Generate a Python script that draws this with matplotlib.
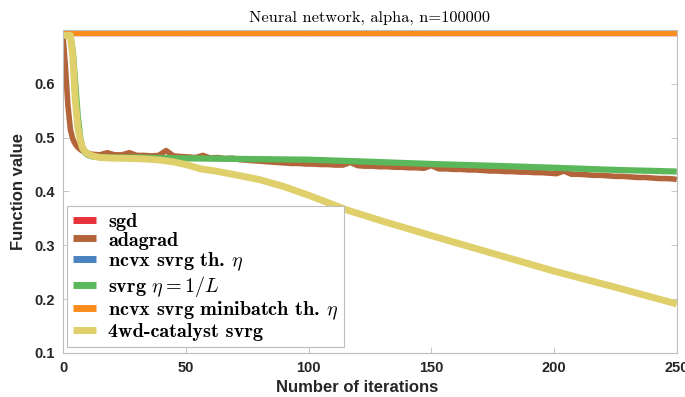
import matplotlib
matplotlib.use("Agg")
import matplotlib.pyplot as plt

# ── data ───────────────────────────────────────────────────────────────────────
sgd_x = [0, 250]
sgd_y = [0.694, 0.694]

ada_x = [0, 1, 2, 3, 4, 5, 6, 7, 8, 9, 10,
         12, 15, 18, 21, 24, 27, 30, 33, 36, 39, 42, 45, 48, 51, 54, 57, 60,
         63, 66, 69, 72, 75, 78, 81, 84, 87, 90, 93, 96, 99, 102, 105, 108,
         111, 114, 117, 120, 123, 126, 129, 132, 135, 138, 141, 144, 147, 150,
         153, 156, 159, 162, 165, 168, 171, 174, 177, 180, 183, 186, 189, 192,
         195, 198, 201, 204, 207, 210, 213, 216, 219, 222, 225, 228, 231, 234,
         237, 240, 243, 246, 249, 250]
ada_y = [0.690, 0.630, 0.560, 0.515, 0.497, 0.488, 0.482, 0.478, 0.475, 0.473, 0.471,
         0.469, 0.468, 0.472, 0.468, 0.468, 0.472, 0.467, 0.467, 0.466, 0.467, 0.476,
         0.466, 0.465, 0.464, 0.463, 0.467, 0.462, 0.463, 0.461, 0.462, 0.459, 0.458,
         0.457, 0.456, 0.455, 0.454, 0.453, 0.452, 0.452, 0.451, 0.451, 0.450, 0.450,
         0.449, 0.449, 0.454, 0.448, 0.447, 0.447, 0.446, 0.446, 0.445, 0.445, 0.444,
         0.444, 0.443, 0.448, 0.442, 0.442, 0.441, 0.441, 0.440, 0.440, 0.439, 0.438,
         0.438, 0.437, 0.437, 0.436, 0.436, 0.435, 0.435, 0.434, 0.433, 0.438, 0.432,
         0.432, 0.431, 0.430, 0.430, 0.429, 0.428, 0.428, 0.427, 0.426, 0.426, 0.425,
         0.424, 0.424, 0.423, 0.422]

ncvx_x = [0, 250]
ncvx_y = [0.694, 0.694]

svrg_x = [0, 3, 4, 5, 6, 7, 8, 9, 10, 12, 15, 20, 30, 40, 60, 80, 100, 120,
          150, 180, 200, 225, 250]
svrg_y = [0.690, 0.690, 0.660, 0.600, 0.540, 0.500, 0.480, 0.472, 0.468, 0.465,
          0.464, 0.463, 0.463, 0.462, 0.461, 0.460, 0.459, 0.456, 0.451, 0.447,
          0.444, 0.440, 0.437]

mb_x = [0, 250]
mb_y = [0.694, 0.694]

cat_x = [0, 3, 4, 5, 6, 7, 8, 9, 10, 12, 15, 20, 30, 35, 40, 45, 50, 56, 62, 69,
         80, 90, 100, 116, 130, 150, 178, 200, 225, 250]
cat_y = [0.690, 0.690, 0.650, 0.570, 0.520, 0.495, 0.480, 0.474, 0.470, 0.466,
         0.463, 0.462, 0.461, 0.460, 0.458, 0.455, 0.450, 0.442, 0.438, 0.432,
         0.422, 0.409, 0.393, 0.365, 0.345, 0.318, 0.281, 0.252, 0.222, 0.191]

series = [
    (sgd_x, sgd_y, "#e8333a", 4.5, "sgd"),
    (ada_x, ada_y, "#b4643a", 4.0, "adagrad"),
    (ncvx_x, ncvx_y, "#4a83c0", 4.5, r"ncvx svrg th. $\eta$"),
    (svrg_x, svrg_y, "#5bb85a", 4.5, r"svrg $\eta=1/L$"),
    (mb_x, mb_y, "#fb8d1e", 4.5, r"ncvx svrg minibatch th. $\eta$"),
    (cat_x, cat_y, "#dfd06c", 5.0, "4wd-catalyst svrg"),
]

plt.rcParams["mathtext.fontset"] = "cm"

fig = plt.figure(figsize=(6.85, 3.97), dpi=100)
ax = fig.add_axes([0.092, 0.111, 0.896, 0.8135])

for x, y, c, lw, lab in series:
    ax.plot(x, y, color=c, lw=lw, label=lab, solid_capstyle="butt")

ax.set_xlim(0, 250)
ax.set_ylim(0.1, 0.7)
ax.set_xticks([0, 50, 100, 150, 200, 250])
ax.set_yticks([0.1, 0.2, 0.3, 0.4, 0.5, 0.6])
ax.set_yticklabels(["0.1", "0.2", "0.3", "0.4", "0.5", "0.6"])

for s in ax.spines.values():
    s.set_color("#bdbdbd")
    s.set_linewidth(0.8)
ax.tick_params(direction="in", top=True, right=True, length=4, width=0.6,
               color="#bdbdbd", labelcolor="#262626", pad=6)
for t in ax.get_xticklabels() + ax.get_yticklabels():
    t.set_fontfamily("Liberation Sans")
    t.set_fontweight("bold")
    t.set_fontsize(10.5)

ax.set_xlabel("Number of iterations", family="Liberation Sans", weight="bold",
              fontsize=12, color="#262626", labelpad=3)
ax.xaxis.set_label_coords(0.479, -0.085)
ax.set_ylabel("Function value", family="Liberation Sans", weight="bold",
              fontsize=12, color="#262626", labelpad=6)
ax.set_title("Neural network, alpha, n=100000", family="cmr10", fontsize=11.8,
             pad=6)

leg = ax.legend(loc="lower left", bbox_to_anchor=(0.0065, 0.0186), borderaxespad=0,
                prop={"family": "cmb10", "size": 14.5}, handlelength=1.15,
                handletextpad=0.6, labelspacing=0.04, borderpad=0.3,
                fancybox=False, framealpha=1)
leg.get_frame().set_edgecolor("#bdbdbd")
leg.get_frame().set_linewidth(0.8)
for h in leg.get_lines():
    h.set_linewidth(5)

fig.savefig("out.png", dpi=100)
